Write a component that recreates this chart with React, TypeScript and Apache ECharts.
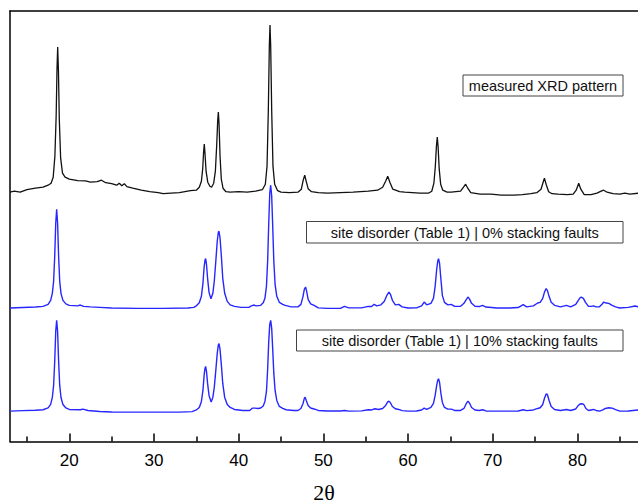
import React, { useEffect, useRef } from "react";
import * as echarts from "echarts";

// 2θ (deg), intensity (arbitrary units, vertically offset traces)
const measured: [number, number][] = [
  [13.0, 249], [13.5, 250], [14.2, 249], [15.0, 251.5], [16.0, 253], [16.9, 254], [17.5, 256], [17.85, 258],
  [18.1, 264], [18.3, 285], [18.45, 325], [18.55, 372], [18.63, 394], [18.72, 370], [18.82, 322], [18.98, 283],
  [19.2, 268], [19.5, 264], [20.0, 262], [21.0, 260.5], [21.9, 260.3], [22.5, 259], [23.3, 259.5], [23.8, 261],
  [24.3, 258.5], [25.0, 257.5], [25.6, 256], [25.9, 258], [26.2, 255.5], [26.5, 257.5], [26.8, 254.5], [27.5, 253],
  [28.5, 251], [29.5, 249.5], [30.5, 248.5], [31.1, 247.5], [32.0, 248], [33.0, 248.5], [34.3, 250.5], [35.0, 251],
  [35.35, 254], [35.6, 260], [35.75, 272], [35.85, 288], [35.94, 297], [36.03, 287], [36.15, 270], [36.35, 259],
  [36.6, 255], [36.8, 254], [37.05, 258], [37.25, 270], [37.4, 295], [37.52, 320], [37.6, 329], [37.68, 318],
  [37.8, 285], [37.95, 262], [38.15, 253], [38.5, 249.5], [39.0, 249], [40.0, 249.5], [41.0, 249], [42.0, 250],
  [42.8, 251.5], [43.15, 257], [43.35, 275], [43.5, 330], [43.62, 395], [43.7, 416], [43.78, 395], [43.9, 330],
  [44.05, 275], [44.25, 257], [44.6, 250.5], [45.0, 249], [46.0, 248.5], [47.0, 249], [47.4, 252], [47.62, 261],
  [47.8, 266], [47.97, 260], [48.2, 252.5], [48.6, 249.5], [49.4, 248.5], [50.5, 248], [52.0, 248.5], [53.5, 249],
  [55.3, 250], [56.4, 251], [57.0, 254], [57.35, 260], [57.6, 265], [57.85, 259], [58.2, 252], [59.0, 249.5],
  [59.6, 249], [60.5, 248.5], [61.4, 248], [62.4, 248], [62.8, 250], [63.05, 258], [63.22, 275], [63.35, 295],
  [63.45, 304], [63.55, 294], [63.68, 272], [63.85, 257], [64.1, 251], [64.6, 249], [65.1, 249], [66.2, 250],
  [66.55, 254], [66.8, 257], [67.05, 253], [67.4, 248.5], [68.5, 247], [69.8, 247], [71.0, 246], [72.5, 246],
  [73.5, 246.5], [74.5, 247.5], [75.2, 248.5], [75.7, 252], [75.95, 259], [76.1, 263], [76.3, 257], [76.6, 249.5],
  [77.0, 247.5], [77.7, 247], [78.8, 246.5], [79.5, 247], [79.85, 251], [80.15, 258], [80.4, 252], [80.8, 246.5],
  [81.6, 246.5], [82.3, 248], [82.8, 250], [83.1, 251], [83.5, 249], [84.2, 247.5], [85.0, 247], [85.6, 248],
  [86.2, 247], [87.2, 248],
];

const sim0: [number, number][] = [
  [13.0, 133.3], [14.5, 133.8], [16.0, 134.3], [16.9, 135], [17.5, 137], [17.8, 141], [18.0, 148], [18.15, 160],
  [18.28, 185], [18.4, 218], [18.51, 232], [18.62, 218], [18.74, 185], [18.87, 160], [19.02, 148], [19.25, 141],
  [19.6, 137.5], [20.0, 136], [21.0, 135.5], [21.3, 136.3], [21.7, 135], [22.5, 134.5], [23.6, 134], [25.0, 133.3],
  [28.0, 133], [31.0, 133], [34.0, 133.3], [34.7, 134], [35.0, 135.5], [35.35, 138.5], [35.6, 145], [35.78, 158],
  [35.92, 174], [36.02, 181], [36.1, 182.7], [36.2, 177], [36.33, 163], [36.5, 149], [36.73, 142.5], [36.95, 148],
  [37.12, 160], [37.3, 180], [37.47, 200], [37.6, 209], [37.68, 210], [37.8, 203], [37.95, 186], [38.12, 163],
  [38.35, 148], [38.65, 140], [39.0, 136.5], [39.5, 135], [40.3, 134], [41.2, 134], [41.5, 135.5], [41.75, 136.3],
  [42.1, 135.5], [42.6, 136], [42.9, 138.5], [43.1, 143], [43.28, 155], [43.42, 180], [43.55, 218], [43.67, 248],
  [43.78, 256], [43.9, 245], [44.02, 215], [44.15, 180], [44.3, 157], [44.5, 145], [44.8, 139], [45.2, 137],
  [45.5, 136], [46.2, 134.5], [47.0, 134.5], [47.35, 137], [47.6, 145], [47.75, 152], [47.9, 154.3], [48.03, 150],
  [48.2, 142], [48.5, 137.5], [48.9, 136], [49.4, 133.5], [50.5, 133], [52.0, 133], [52.5, 135], [53.0, 133.5],
  [54.5, 133.5], [55.3, 135], [55.7, 134.8], [56.0, 137], [56.3, 135.5], [56.8, 136.5], [57.2, 140], [57.5, 146],
  [57.74, 149.3], [57.92, 147], [58.15, 141], [58.5, 136.5], [58.9, 137], [59.3, 134.5], [60.0, 133.3], [61.0, 133.5],
  [61.6, 135.5], [61.9, 139.3], [62.2, 136.5], [62.7, 138], [63.0, 143], [63.2, 155], [63.38, 172], [63.5, 180],
  [63.6, 182.7], [63.72, 178], [63.88, 162], [64.05, 146], [64.3, 139], [64.7, 136.5], [65.1, 137], [65.5, 135],
  [66.2, 135], [66.6, 138], [66.85, 141.5], [67.07, 144.3], [67.25, 142.5], [67.5, 138], [67.9, 135], [68.4, 134.8],
  [68.8, 136], [69.2, 134.3], [70.5, 133.3], [72.0, 133.3], [73.0, 133.8], [73.6, 136.7], [74.0, 134.5], [74.8, 135.5],
  [75.3, 138.3], [75.6, 139], [75.9, 143], [76.1, 149], [76.3, 152.7], [76.45, 151], [76.65, 145], [76.9, 139],
  [77.3, 136], [78.0, 134.5], [78.7, 136], [79.2, 134.5], [79.8, 137], [80.1, 141], [80.3, 143.5], [80.45, 144.3],
  [80.7, 143], [80.95, 139], [81.3, 135], [81.6, 135], [81.9, 135.5], [82.2, 134.5], [82.6, 134.5], [82.9, 137],
  [83.1, 139.3], [83.4, 138.3], [83.7, 138], [84.1, 136], [84.5, 134.5], [85.0, 133.3], [86.0, 134], [86.8, 135.3],
  [87.2, 134.5],
];

const sim10: [number, number][] = [
  [13.0, 30.3], [14.5, 30.8], [16.0, 31.2], [16.9, 31.7], [17.5, 33.5], [17.8, 37], [18.0, 44], [18.15, 56],
  [18.28, 80], [18.4, 110], [18.51, 121], [18.62, 110], [18.74, 80], [18.87, 56], [19.02, 44], [19.25, 37],
  [19.6, 33.5], [20.0, 32], [21.3, 31.7], [21.6, 32.3], [22.2, 31], [23.6, 30], [25.0, 29.5], [27.0, 29.3],
  [30.0, 29.3], [33.0, 29.3], [34.5, 29.8], [35.0, 31.5], [35.35, 34], [35.6, 40], [35.78, 51], [35.92, 66],
  [36.02, 73], [36.1, 75], [36.2, 70], [36.33, 58], [36.5, 46], [36.75, 39.5], [36.95, 44], [37.12, 54],
  [37.3, 71], [37.47, 88], [37.6, 96.5], [37.68, 97.7], [37.8, 92], [37.95, 77], [38.12, 58], [38.35, 44],
  [38.65, 37], [39.0, 34], [39.5, 32], [40.5, 31], [41.3, 31], [41.6, 33.3], [41.9, 33.3], [42.3, 33],
  [42.6, 33.5], [42.9, 35.5], [43.1, 40], [43.28, 50], [43.42, 72], [43.55, 100], [43.67, 117], [43.78, 121],
  [43.9, 113], [44.02, 92], [44.15, 68], [44.3, 51], [44.5, 41], [44.8, 35], [45.2, 33], [45.6, 31.7],
  [46.5, 31], [47.0, 31], [47.35, 33], [47.6, 38], [47.75, 43], [47.85, 44.3], [47.98, 41], [48.2, 36],
  [48.5, 33.5], [48.9, 32.5], [49.4, 31], [50.5, 30.5], [52.0, 30.5], [52.5, 31], [53.0, 30.3], [54.5, 30.6],
  [55.3, 31.7], [55.7, 31.5], [56.1, 32.7], [56.5, 32], [57.0, 33], [57.35, 36], [57.6, 39.5], [57.74, 40.3],
  [57.9, 39], [58.15, 35], [58.5, 32.7], [58.9, 32], [59.3, 30.8], [60.0, 30.3], [61.0, 30.5], [61.6, 31.5],
  [61.9, 33.3], [62.2, 32], [62.7, 34], [63.0, 38], [63.2, 46], [63.38, 56], [63.5, 61], [63.6, 62.7],
  [63.72, 59], [63.88, 48], [64.05, 39], [64.3, 34], [64.7, 32.3], [65.1, 32.3], [65.5, 31], [66.2, 31],
  [66.6, 33], [66.85, 37.5], [67.07, 40.3], [67.25, 38.5], [67.5, 34], [67.9, 31.5], [68.4, 31], [68.8, 31.7],
  [69.2, 30.5], [70.5, 30.3], [72.0, 30.3], [73.0, 30.5], [73.6, 31.7], [74.0, 30.8], [74.8, 31.5], [75.3, 33],
  [75.6, 33.7], [75.9, 37], [76.1, 43], [76.3, 47.5], [76.45, 47], [76.65, 41], [76.9, 35], [77.3, 32],
  [78.0, 31], [78.7, 32], [79.2, 31], [79.8, 32.5], [80.1, 36], [80.3, 37.5], [80.5, 37.7], [80.75, 37],
  [81.0, 33], [81.3, 31], [81.6, 31.5], [81.9, 32], [82.2, 31], [82.6, 30.3], [83.0, 31.5], [83.3, 33],
  [83.7, 33.7], [84.1, 33.3], [84.5, 31.8], [85.0, 30.3], [86.0, 30.4], [87.2, 31.5],
];

const majorTicks = [20, 30, 40, 50, 60, 70, 80];
const minorTicks = [15, 25, 35, 45, 55, 65, 75, 85];
const labels = [
  "measured XRD pattern",
  "site disorder (Table 1) | 0% stacking faults",
  "site disorder (Table 1) | 10% stacking faults",
];
const xName = "2θ";

export default function App() {
  const ref = useRef<HTMLDivElement>(null);
  useEffect(() => {
    document.body.style.margin = "0";
    const chart = echarts.init(ref.current!, null, { renderer: "svg" });
    const sans = "'Liberation Sans', Arial, sans-serif";
    const X_MIN = 13;
    const X_MAX = 87.15;
    const axisLineStyle = { color: "#000", width: 1.5 };
    const box = (x: number, y: number, w: number, h: number, text: string) => ({
      type: "group",
      children: [
        {
          type: "rect",
          shape: { x, y, width: w, height: h },
          style: { fill: "#fff", stroke: "#444", lineWidth: 1 },
        },
        {
          type: "text",
          style: {
            x: x + w / 2,
            y: y + h / 2 + 0.5,
            text,
            align: "center",
            verticalAlign: "middle",
            font: `14.5px ${sans}`,
            fill: "#111",
          },
        },
      ],
    });
    chart.setOption({
      animation: false,
      grid: { left: 10, right: 0, top: 11, bottom: 62.5, containLabel: false, outerBoundsMode: "none" },
      xAxis: [
        {
          type: "value",
          min: X_MIN,
          max: X_MAX,
          position: "bottom",
          axisLine: { show: true, onZero: false, lineStyle: axisLineStyle },
          axisTick: { show: true, inside: true, length: 8, customValues: majorTicks, lineStyle: { color: "#000", width: 1.5 } },
          axisLabel: { show: true, customValues: majorTicks, margin: 10, color: "#000", fontSize: 17, fontFamily: sans },
          splitLine: { show: false },
          name: xName,
          nameLocation: "middle",
          nameGap: 40,
          nameTextStyle: { color: "#000", fontSize: 22, fontFamily: "'Liberation Serif', 'Times New Roman', serif" },
        },
        {
          type: "value",
          min: X_MIN,
          max: X_MAX,
          position: "bottom",
          axisLine: { show: false, onZero: false },
          axisTick: { show: true, inside: true, length: 5, customValues: minorTicks, lineStyle: { color: "#000", width: 1.5 } },
          axisLabel: { show: false },
          splitLine: { show: false },
        },
        {
          type: "value",
          min: X_MIN,
          max: X_MAX,
          position: "top",
          axisLine: { show: true, onZero: false, lineStyle: axisLineStyle },
          axisTick: { show: false },
          axisLabel: { show: false },
          splitLine: { show: false },
        },
      ],
      yAxis: {
        type: "value",
        min: 0,
        max: 430,
        axisLine: { show: true, onZero: false, lineStyle: axisLineStyle },
        axisTick: { show: false },
        axisLabel: { show: false },
        splitLine: { show: false },
      },
      series: [
        { name: labels[0], type: "line", data: measured, showSymbol: false, symbol: "none", lineStyle: { color: "#111", width: 1.3 } },
        { name: labels[1], type: "line", data: sim0, showSymbol: false, symbol: "none", lineStyle: { color: "#2626ff", width: 1.4 } },
        { name: labels[2], type: "line", data: sim10, showSymbol: false, symbol: "none", lineStyle: { color: "#2626ff", width: 1.4 } },
      ],
      graphic: [
        box(463, 75, 160, 21, labels[0]),
        box(306.5, 221.5, 316.5, 21.5, labels[1]),
        box(296.5, 330, 326.5, 21, labels[2]),
      ],
    });
    return () => chart.dispose();
  }, []);
  return <div ref={ref} style={{ width: 638, height: 504 }} />;
}
